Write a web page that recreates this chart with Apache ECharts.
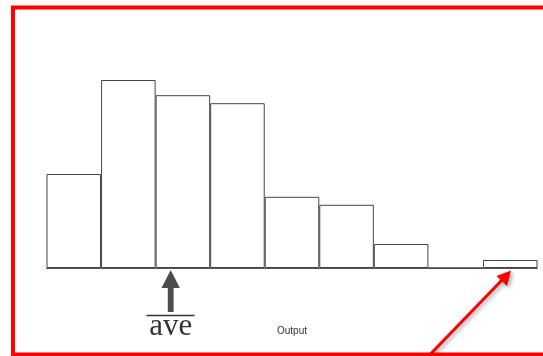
<!DOCTYPE html>
<html><head><meta charset="utf-8">
<script src="https://cdn.jsdelivr.net/npm/echarts@6/dist/echarts.min.js"></script>
<style>html,body{margin:0;padding:0;background:#fff}#c{width:543px;height:356px}</style>
</head><body><div id="c"></div>
<script>
const bins = ['1','2','3','4','5','6','7','8','9'];
const counts = [23.5, 47, 43.2, 41.2, 17.8, 15.8, 6, 0, 2];
const axisTitle = 'Output';
const aveLabel = 'ave';

const chart = echarts.init(document.getElementById('c'), null, {renderer:'canvas'});
chart.setOption({
  animation:false,
  backgroundColor:'#fff',
  grid:{left:46.5, right:5.5, top:20, bottom:88},
  xAxis:{type:'category', data:bins, boundaryGap:true,
    axisLine:{show:true, lineStyle:{color:'#555', width:1.2}},
    axisTick:{show:false}, axisLabel:{show:false}, splitLine:{show:false}},
  yAxis:{type:'value', min:0, max:62, show:false, splitLine:{show:false}},
  series:[{type:'bar', data:counts, barCategoryGap:'0%',
    itemStyle:{color:'#fff', borderColor:'#444', borderWidth:1}}],
  graphic:[
    {type:'rect', shape:{x:13, y:7.5, width:600, height:347}, style:{fill:null, stroke:'#ff0000', lineWidth:4}, z:100},
    {type:'polygon', shape:{points:[[170.7,270],[161.5,288],[167.8,288],[167.8,312],[173.6,312],[173.6,288],[179.9,288]]}, style:{fill:'#4d4d4d'}},
    {type:'line', shape:{x1:146.5, y1:315.5, x2:194.5, y2:315.5}, style:{stroke:'#333', lineWidth:1.3}},
    {type:'text', x:170.7, y:327, style:{text:aveLabel, font:'31px "Liberation Serif", serif', fill:'#333', align:'center', verticalAlign:'middle'}},
    {type:'text', x:292, y:331, style:{text:axisTitle, font:'10px "Liberation Sans", Arial, sans-serif', fill:'#333', align:'center', verticalAlign:'middle'}},
    {type:'line', shape:{x1:426.7, y1:358, x2:503, y2:279}, style:{stroke:'#ff0000', lineWidth:3, shadowBlur:4, shadowColor:'rgba(0,0,0,0.35)', shadowOffsetX:2, shadowOffsetY:2}},
    {type:'polygon', shape:{points:[[511,270.5],[496.5,276],[507,286]]}, style:{fill:'#ff0000', shadowBlur:4, shadowColor:'rgba(0,0,0,0.35)', shadowOffsetX:2, shadowOffsetY:2}}
  ]
});
</script></body></html>
